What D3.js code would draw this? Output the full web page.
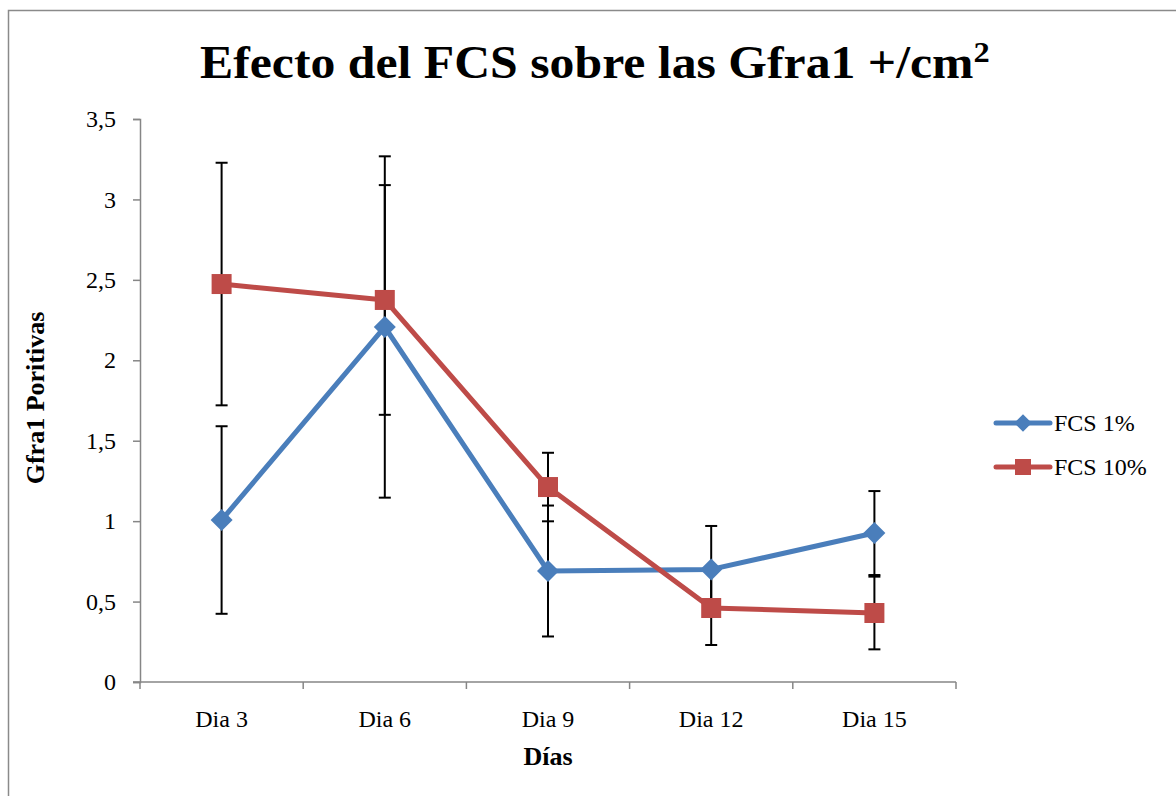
<!DOCTYPE html>
<html>
<head>
<meta charset="utf-8">
<script src="https://cdn.jsdelivr.net/npm/d3@7"></script>
<style>
  html, body { margin: 0; padding: 0; background: #fff; }
  svg text { font-family: 'Liberation Serif', 'DejaVu Serif', serif; }
</style>
</head>
<body>
<div id="chart"></div>
<script>
const days = ['Dia 3', 'Dia 6', 'Dia 9', 'Dia 12', 'Dia 15'];
const fcs1 = [1.007, 2.207, 0.69, 0.70, 0.926];
const fcs1Err = [0.583, 1.061, 0.407, 0.27, 0.261];
const fcs10 = [2.474, 2.375, 1.212, 0.46, 0.429];
const fcs10Err = [0.754, 0.714, 0.213, 0.23, 0.226];
const yTicks = [0, 0.5, 1, 1.5, 2, 2.5, 3, 3.5];
const seriesNames = ['FCS 1%', 'FCS 10%'];

const series = [
  { name: seriesNames[0], values: fcs1, err: fcs1Err, color: '#4a7ebb', shape: 'diamond' },
  { name: seriesNames[1], values: fcs10, err: fcs10Err, color: '#be4b48', shape: 'square' }
];

const W = 1176, H = 796;
const margin = { top: 119, left: 140, right: 220, bottom: 114 };
const width = 956 - margin.left;
const height = 682 - margin.top;
const tickFont = 24;
const titleFont = 26;

const svg = d3.select('#chart').append('svg').attr('width', W).attr('height', H);

// outer chart border (cut off on the right and bottom)
svg.append('path')
  .attr('d', 'M8.5,' + H + 'V10.5H' + W)
  .attr('fill', 'none')
  .attr('stroke', '#8a8a8a')
  .attr('stroke-width', 1.5);

const g = svg.append('g').attr('transform', 'translate(' + margin.left + ',' + margin.top + ')');

const x = d3.scaleBand().domain(days).range([0, width]);
const y = d3.scaleLinear().domain([0, 3.5]).range([height, 0]);
const cx = (d) => x(d) + x.bandwidth() / 2;

// y axis
const yAxis = g.append('g')
  .call(d3.axisLeft(y).tickValues(yTicks).tickSize(7).tickFormat((d) => String(d).replace('.', ',')));
yAxis.select('.domain').attr('stroke', '#868686').attr('stroke-width', 1.5);
yAxis.selectAll('.tick line').attr('stroke', '#868686').attr('stroke-width', 1.5);
yAxis.selectAll('.tick text').attr('x', -24).attr('font-size', tickFont).attr('fill', '#000')
  .style('font-family', "'Liberation Serif', serif");

// x axis with ticks between categories
const xAxis = g.append('g').attr('transform', 'translate(0,' + height + ')');
xAxis.append('line').attr('x1', -7).attr('x2', width).attr('stroke', '#868686').attr('stroke-width', 1.5);
xAxis.selectAll('.xt')
  .data(d3.range(days.length + 1))
  .enter()
  .append('line')
  .attr('x1', (i) => i * x.step())
  .attr('x2', (i) => i * x.step())
  .attr('y1', 0)
  .attr('y2', 7)
  .attr('stroke', '#868686')
  .attr('stroke-width', 1.5);
xAxis.selectAll('.xl')
  .data(days)
  .enter()
  .append('text')
  .attr('x', (d) => cx(d))
  .attr('y', 45)
  .attr('text-anchor', 'middle')
  .attr('font-size', tickFont)
  .text((d) => d);

// lines
const line = d3.line().x((d, i) => cx(days[i])).y((d) => y(d));
series.forEach((s) => {
  g.append('path')
    .datum(s.values)
    .attr('d', line)
    .attr('fill', 'none')
    .attr('stroke', s.color)
    .attr('stroke-width', 5)
    .attr('stroke-linejoin', 'round');
});

// error bars
series.forEach((s) => {
  const eb = g.append('g');
  s.values.forEach((v, i) => {
    const xx = cx(days[i]);
    const lo = y(v - s.err[i]);
    const hi = y(v + s.err[i]);
    eb.append('line').attr('x1', xx).attr('x2', xx).attr('y1', lo).attr('y2', hi)
      .attr('stroke', '#000').attr('stroke-width', 2);
    [lo, hi].forEach((yy) => {
      eb.append('line').attr('x1', xx - 6).attr('x2', xx + 6).attr('y1', yy).attr('y2', yy)
        .attr('stroke', '#000').attr('stroke-width', 2);
    });
  });
});

// markers
const diamond = 'M0,-11L11,0L0,11L-11,0Z';
const square = 'M-10,-10H10V10H-10Z';
series.forEach((s) => {
  g.selectAll('.m-' + s.shape)
    .data(s.values)
    .enter()
    .append('path')
    .attr('d', s.shape === 'diamond' ? diamond : square)
    .attr('transform', (d, i) => 'translate(' + cx(days[i]) + ',' + y(d) + ')')
    .attr('fill', s.color);
});

// axis titles
svg.append('text')
  .attr('x', 548)
  .attr('y', 765)
  .attr('text-anchor', 'middle')
  .attr('font-size', titleFont)
  .attr('font-weight', 'bold')
  .text('Días');

svg.append('text')
  .attr('transform', 'translate(44,398) rotate(-90)')
  .attr('text-anchor', 'middle')
  .attr('font-size', titleFont)
  .attr('font-weight', 'bold')
  .text('Gfra1 Poritivas');

// title, squeezed to the reference width
const title = svg.append('text')
  .attr('y', 78)
  .attr('font-size', 46)
  .attr('font-weight', 'bold');
title.append('tspan').text('Efecto del FCS sobre las Gfra1 +/cm');
title.append('tspan').attr('font-size', 30).attr('dy', -16).text('2');
const tw = title.node().getComputedTextLength();
const targetW = 790;
title.attr('transform', 'translate(200,0) scale(' + targetW / tw + ',1)');

// legend
const legend = svg.append('g').attr('transform', 'translate(996,0)');
series.forEach((s, i) => {
  const ly = 423 + i * 44;
  legend.append('line').attr('x1', 0).attr('x2', 54).attr('y1', ly).attr('y2', ly)
    .attr('stroke', s.color).attr('stroke-width', 5).attr('stroke-linecap', 'round');
  legend.append('path')
    .attr('d', s.shape === 'diamond' ? diamond : square)
    .attr('transform', 'translate(27,' + ly + ') scale(0.8)')
    .attr('fill', s.color);
  legend.append('text')
    .attr('x', 58)
    .attr('y', ly + 8)
    .attr('font-size', tickFont)
    .text(s.name);
});
</script>
</body>
</html>
